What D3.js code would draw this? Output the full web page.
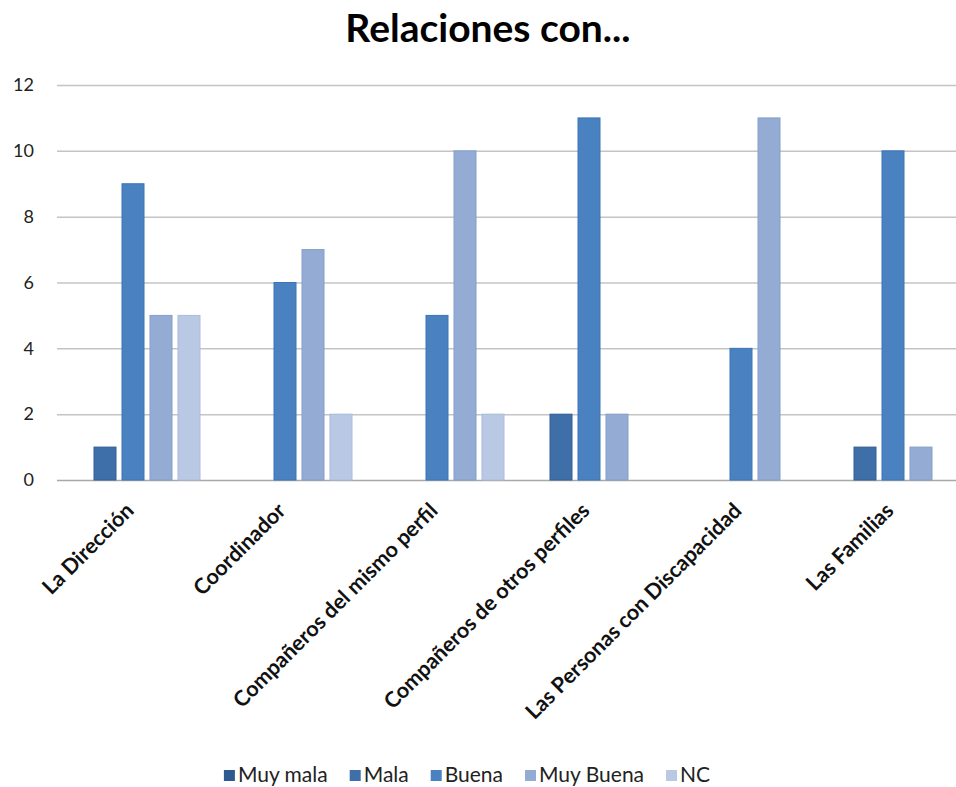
<!DOCTYPE html>
<html>
<head>
<meta charset="utf-8">
<script src="https://cdn.jsdelivr.net/npm/d3@7"></script>
<style>
  html, body { margin: 0; padding: 0; background: #fff; }
  svg { display: block; font-family: Lato, "Open Sans", sans-serif; }
</style>
</head>
<body>
<svg id="chart" width="956" height="787"></svg>
<script>
// Categories (who the relationship is with)
const categories = [
  "La Dirección",
  "Coordinador",
  "Compañeros del mismo perfil",
  "Compañeros de otros perfiles",
  "Las Personas con Discapacidad",
  "Las Familias"
];

// Answer series, one value per category
const seriesNames = ["Muy mala", "Mala", "Buena", "Muy Buena", "NC"];
const muyMala  = [0, 0, 0, 0, 0, 0];
const mala     = [1, 0, 0, 2, 0, 1];
const buena    = [9, 6, 5, 11, 4, 10];
const muyBuena = [5, 7, 10, 2, 11, 1];
const nc       = [5, 2, 2, 0, 0, 0];
const seriesValues = [muyMala, mala, buena, muyBuena, nc];

const yTicks = [0, 2, 4, 6, 8, 10, 12];
const title = "Relaciones con...";

const colors = ["#2D5B90", "#3E6FA8", "#4A81C0", "#94ACD3", "#B9C9E3"];
const strokes = ["#24507F", "#335F95", "#3D74B6", "#849FCB", "#A9BCDB"];

const svg = d3.select("#chart");

const plot = { left: 57, right: 969, top: 85, bottom: 480 };

const x = d3.scaleBand()
  .domain(categories)
  .range([plot.left, plot.right])
  .paddingInner(18 / 152)
  .paddingOuter(9 / 152);

const xs = d3.scaleBand()
  .domain(seriesNames)
  .range([0, x.bandwidth()])
  .paddingInner(6 / 28)
  .paddingOuter(0);

const y = d3.scaleLinear().domain([0, 12]).range([plot.bottom, plot.top]);

// Title
svg.append("text")
  .attr("x", 488)
  .attr("y", 42)
  .attr("text-anchor", "middle")
  .attr("font-size", 39)
  .attr("font-weight", "bold")
  .attr("fill", "#000")
  .text(title);

// Horizontal gridlines and value labels
const yAxis = d3.axisLeft(y)
  .tickValues(yTicks)
  .tickSize(-(plot.right - plot.left))
  .tickPadding(23)
  .tickFormat(d3.format("d"));

const gy = svg.append("g")
  .attr("transform", `translate(${plot.left},0)`)
  .call(yAxis);
gy.select(".domain").remove();
gy.selectAll(".tick line")
  .attr("stroke", d => d === 0 ? "#A8A8A8" : "#C4C4C4")
  .attr("stroke-width", 1.5);
gy.selectAll(".tick text")
  .attr("font-size", 18)
  .attr("fill", "#222")
  .attr("font-family", "Lato, sans-serif");

// Bars
const groups = svg.append("g").selectAll("g")
  .data(categories)
  .join("g")
  .attr("transform", d => `translate(${x(d)},0)`);

groups.selectAll("rect")
  .data((c, ci) => seriesNames.map((s, si) => ({ s, si, v: seriesValues[si][ci] })))
  .join("rect")
  .filter(d => d.v > 0)
  .attr("x", d => xs(d.s))
  .attr("y", d => y(d.v))
  .attr("width", xs.bandwidth())
  .attr("height", d => y(0) - y(d.v))
  .attr("fill", d => colors[d.si])
  .attr("stroke", d => strokes[d.si])
  .attr("stroke-width", 1);

// Category labels, rotated
const xAxis = d3.axisBottom(x).tickSize(0).tickPadding(0);
const gx = svg.append("g")
  .attr("transform", `translate(0,${plot.bottom})`)
  .call(xAxis);
gx.select(".domain").remove();
gx.selectAll(".tick text")
  .attr("font-size", 21.5)
  .attr("font-weight", "bold")
  .attr("fill", "#111")
  .attr("font-family", "Lato, sans-serif")
  .attr("text-anchor", "end")
  .attr("dy", null)
  .attr("y", 0)
  .attr("transform", "translate(2,32) rotate(-45)");

// Legend
const legend = svg.append("g").attr("transform", "translate(0,782)");
const items = legend.selectAll("g")
  .data(seriesNames)
  .join("g");
items.append("rect")
  .attr("width", 11)
  .attr("height", 11)
  .attr("y", -12)
  .attr("fill", (d, i) => colors[i]);
items.append("text")
  .attr("x", 14)
  .attr("font-size", 21)
  .attr("fill", "#222")
  .text(d => d);

let cx = 0;
const pos = [];
items.each(function (d, i) {
  const w = 14 + this.querySelector("text").getComputedTextLength();
  pos.push(cx);
  cx += w + 22;
});
const total = cx - 22;
const start = 467 - total / 2;
items.attr("transform", (d, i) => `translate(${start + pos[i]},0)`);
</script>
</body>
</html>
